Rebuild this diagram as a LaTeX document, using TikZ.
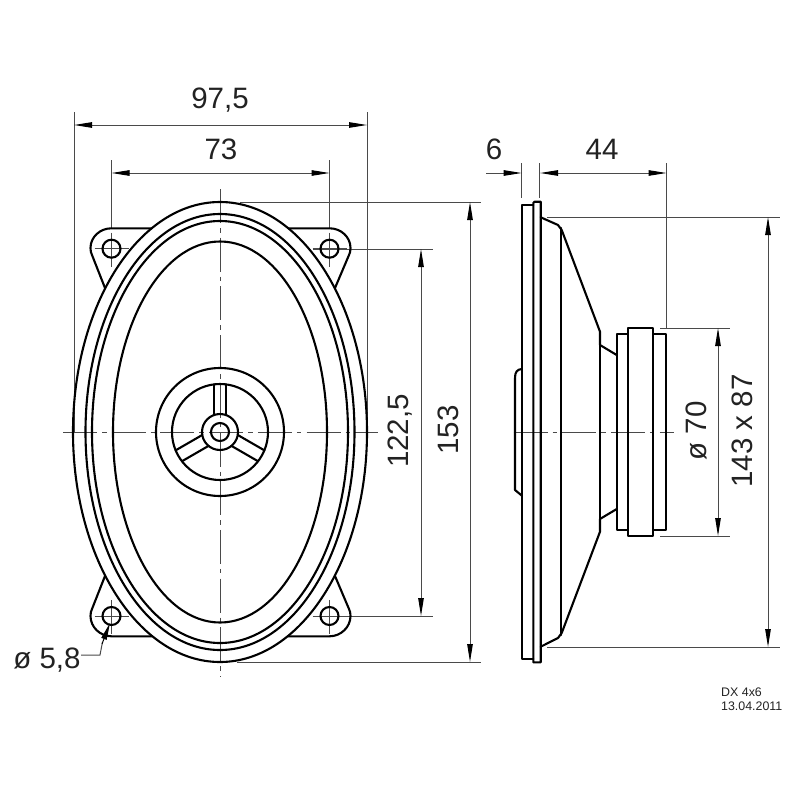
\documentclass[tikz,border=0pt]{standalone}
\usepackage{fontspec}
\setmainfont{Liberation Sans}
\usetikzlibrary{arrows.meta}
\definecolor{dimgray}{HTML}{4A4A4A}
\definecolor{txtgray}{HTML}{222222}
\tikzset{
  outline/.style={draw=black,line width=2.1pt,line join=round,line cap=round},
  thinline/.style={draw=dimgray,line width=1pt},
  centerline/.style={draw=dimgray,line width=1pt,dash pattern=on 34pt off 5pt on 4.5pt off 5.2pt},
  dimline/.style={draw=dimgray,line width=1pt,{Triangle[length=18pt,width=5.5pt,color=black]}-{Triangle[length=18pt,width=5.5pt,color=black]}},
  dimtip/.style={draw=dimgray,line width=1pt,-{Triangle[length=18pt,width=5.5pt,color=black]}},
  dimtext/.style={text=txtgray,font=\fontsize{29.5}{29.5}\selectfont,inner sep=0pt},
  smalltext/.style={text=txtgray,font=\fontsize{12.4}{14}\selectfont,inner sep=0pt,anchor=west},
}
\begin{document}
\begin{tikzpicture}[x=1pt,y=-1pt]
\useasboundingbox (0,0) rectangle (800,800);
\coordinate (c) at (220,432);
% reference coordinates of the dimensions
\coordinate (la) at (74,125); \coordinate (ra) at (367,125);
\coordinate (lb) at (111.5,173); \coordinate (rb) at (329.5,173);
\coordinate (tc) at (470,202); \coordinate (bc) at (470,662);
\coordinate (td) at (421,249); \coordinate (bd) at (421,616);
\coordinate (te) at (768,217); \coordinate (be) at (768,647);
\coordinate (tf) at (718,328); \coordinate (bf) at (718,536);
\coordinate (lg) at (540,173); \coordinate (rg) at (666.5,173);
\coordinate (lh) at (486,173); \coordinate (rh) at (521.7,173);

% extension lines
\draw[thinline] (74,112) -- (74,432);
\draw[thinline] (367,112) -- (367,432);
\draw[thinline] (111.5,160) -- (111.5,228);
\draw[thinline] (329.5,160) -- (329.5,228);
\draw[thinline] (240,202) -- (481,202);
\draw[thinline] (237,662) -- (481,662);
\draw[thinline] (313,249) -- (433,249);
\draw[thinline] (313,616) -- (433,616);
\draw[thinline] (521.7,163) -- (521.7,198);
\draw[thinline] (539.7,163) -- (539.7,198);
\draw[thinline] (666.5,163) -- (666.5,328);
\draw[thinline] (547,217) -- (780,217);
\draw[thinline] (547,647) -- (780,647);
\draw[thinline] (660,328) -- (730,328);
\draw[thinline] (660,536) -- (730,536);

% dimension lines
\draw[dimline] (la) -- (ra);
\draw[dimline] (lb) -- (rb);
\draw[dimline] (tc) -- (bc);
\draw[dimline] (td) -- (bd);
\draw[dimline] (te) -- (be);
\draw[dimline] (tf) -- (bf);
\draw[dimline] (lg) -- (rg);
\draw[dimtip] (lh) -- (rh);

% centre lines
\draw[centerline] (220,189) -- (220,677);
\draw[centerline] (63,432) -- (378,432);
\draw[centerline] (513.5,432) -- (674,432);
\foreach \hx/\hy in {111.5/248.7,329.5/248.7,111.5/616,329.5/616}{
  \draw[thinline] (\hx,\hy-16) -- (\hx,\hy+18);
  \draw[thinline] (\hx-17,\hy) -- (\hx+17,\hy);
  \draw[outline] (\hx,\hy) circle[radius=9];
}

% speaker basket, front view
\draw[outline] (c) ellipse[x radius=147,y radius=230];
\draw[outline] (c) ellipse[x radius=134.5,y radius=218];
\draw[outline] (c) ellipse[x radius=128,y radius=211];
\draw[outline] (c) ellipse[x radius=107,y radius=190.5];
% mounting tabs
\draw[outline] (151.7,228.3) -- (111.5,228.3) .. controls (100,228.3) and (90.5,237) .. (90.5,248) .. controls (90.5,251) and (91,253) .. (92,255) -- (105,288);
\draw[outline] (288.3,228.3) -- (329.5,228.3) .. controls (341,228.3) and (350.5,237) .. (350.5,248) .. controls (350.5,251) and (350,253) .. (349,255) -- (335,288);
\draw[outline] (151.7,636.3) -- (111.5,636.3) .. controls (100,636.3) and (90.5,627) .. (90.5,616) .. controls (90.5,613) and (91,611) .. (92,609) -- (105,576);
\draw[outline] (288.3,636.3) -- (329.5,636.3) .. controls (341,636.3) and (350.5,627) .. (350.5,616) .. controls (350.5,613) and (350,611) .. (349,609) -- (335,576);
% centre assembly
\draw[outline] (c) circle[radius=64];
\draw[outline] (c) circle[radius=48];
\draw[outline] (c) circle[radius=18];
\draw[outline] (c) circle[radius=9];
\foreach \a in {90,210,330}{
  \begin{scope}[shift={(220,432)},rotate=\a]
    \draw[outline] (16.8,6.3) -- (47.6,6.3);
    \draw[outline] (16.8,-6.3) -- (47.6,-6.3);
  \end{scope}
}

% side view
\draw[outline] (533.3,205) -- (521.7,205) -- (521.7,659.3) -- (533.3,659.3);
\draw[outline] (533.3,203) .. controls (533.3,202) .. (534.5,201.7) -- (540.7,201.7) -- (540.7,662.3) -- (533.3,662.3) -- cycle;
\draw[outline] (521.7,369) .. controls (517,369.5) and (515,372) .. (515,378) -- (515,490) -- (521.7,495.5);
\draw[outline] (540.7,217.3) -- (558,225) -- (561.7,230) -- (600,331.7) -- (600,345) -- (616.7,355);
\draw[outline] (540.7,646.7) -- (558,638) -- (561.7,633) -- (600,531.7) -- (600,519) -- (616.7,509);
\draw[outline] (561.2,228) -- (561.2,635);
\draw[outline] (600,331.7) -- (600,531.7);
\draw[outline] (616.7,334.3) rectangle (628.3,530);
\draw[outline] (628.3,328.3) rectangle (653.3,535.7);
\draw[outline] (653.3,334.3) rectangle (666,530);

% hole leader
\coordinate (ld) at (81,655);
\coordinate (le) at (100,655);
\coordinate (lf) at (110,623);
\draw[thinline] (ld) -- (le) -- (102.5,642);
\draw[draw=black,line width=1pt,-{Triangle[length=17pt,width=5.5pt,color=black]}] (102,644) -- (lf);

% labels
\node[dimtext] (t975) at (220,100) {97,5};
\node[dimtext] (t73) at (221,149) {73};
\node[dimtext] (t6) at (494,149) {6};
\node[dimtext] (t44) at (602,149) {44};
\node[dimtext,rotate=90] (t1225) at (400,431) {122,5};
\node[dimtext,rotate=90] (t153) at (448,430) {153};
\node[dimtext,rotate=90] (t70) at (696,431) {ø 70};
\node[dimtext,rotate=90] (t143) at (742,431) {143 x 87};
\node[dimtext] (t58) at (47,660) {ø 5,8};
\node[smalltext] (tdx) at (721,692) {DX 4x6};
\node[smalltext] (tdate) at (721,706) {13.04.2011};
\end{tikzpicture}
\end{document}
